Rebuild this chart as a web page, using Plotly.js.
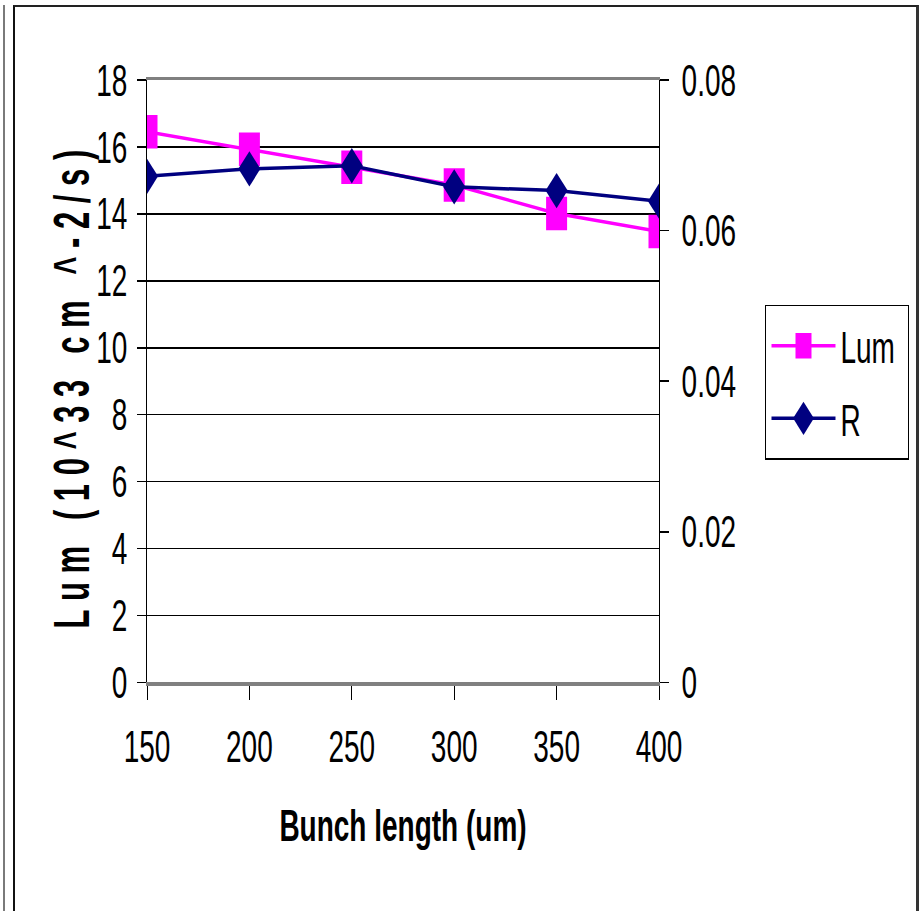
<!DOCTYPE html>
<html>
<head>
<meta charset="utf-8">
<script src="https://cdn.plot.ly/plotly-3.0.1.min.js"></script>
<style>
  html, body { margin: 0; padding: 0; background: #ffffff; }
  body { width: 922px; height: 911px; position: relative; overflow: hidden; }
  #frameLeftOuter { position: absolute; left: 3px; top: 5px; width: 2px; height: 906px; background: #7a7a7a; }
  #frame { position: absolute; left: 13px; top: 5px; width: 901px; height: 910px;
           border-top: 2px solid #222; border-left: 2px solid #111; border-right: 3px solid #333; }
  #chart { position: absolute; left: 0; top: 0; width: 922px; height: 570px;
           transform: scaleY(1.5982); transform-origin: 0 0; }
</style>
</head>
<body>
<div id="frameLeftOuter"></div>
<div id="frame"></div>
<div id="chart"></div>
<script>
// Bunch length (um)
const bunchLength = [150, 200, 250, 300, 350, 400];
// Luminosity, 10^33 cm^-2/s (left axis)
const lum = [16.45, 15.93, 15.39, 14.86, 14.01, 13.47];
// R (right axis)
const rValues = [0.0672, 0.0682, 0.0686, 0.0658, 0.0653, 0.0639];
// Axis tick labels
const xTicks = [150, 200, 250, 300, 350, 400];
const lumTicks = [0, 2, 4, 6, 8, 10, 12, 14, 16, 18];
const rTicks = [0, 0.02, 0.04, 0.06, 0.08];
const rTickText = ["0", "0.02", "0.04", "0.06", "0.08"];

const FONT = "Liberation Sans, Arial, sans-serif";
const STRETCH = 1.5982;           // vertical stretch applied to the whole chart
const NB = "\u00A0";              // non-breaking space keeps the letter spacing
const yTitle = ["L u m", "( 1 0 ^ 3 3", "c m", "^ - 2 / s )"]
  .map(w => w.split(" ").join(NB)).join(NB + NB + NB);

const traces = [
  {
    x: bunchLength, y: lum, name: "Lum" + NB, type: "scatter", mode: "lines+markers",
    xaxis: "x", yaxis: "y", legendgroup: "lum",
    line: { color: "#FF00FF", width: 2.2 },
    marker: { symbol: "square", size: 21, color: "#FF00FF" },
    hoverinfo: "skip"
  },
  {
    x: bunchLength, y: rValues, name: "R", type: "scatter", mode: "lines+markers",
    xaxis: "x", yaxis: "y2", legendgroup: "r",
    line: { color: "#000080", width: 2.2 },
    marker: { symbol: "diamond", size: 17, color: "#000080" },
    hoverinfo: "skip"
  }
];

const layout = {
  width: 922, height: 570,
  margin: { l: 147, r: 263, t: 50, b: 143, pad: 0 },
  paper_bgcolor: "rgba(0,0,0,0)",
  plot_bgcolor: "#ffffff",
  font: { family: FONT, size: 28, color: "#000000" },
  showlegend: true,
  legend: {
    x: 1.208, y: 0.627, xanchor: "left", yanchor: "top",
    bgcolor: "#ffffff", bordercolor: "#000000", borderwidth: 1,
    font: { family: FONT, size: 28, color: "#000000" },
    itemwidth: 64, tracegroupgap: 6
  },
  xaxis: {
    range: [150, 400], tickmode: "array", tickvals: xTicks, ticktext: xTicks.map(String),
    ticks: "outside", ticklen: 9, tickwidth: 1, tickcolor: "#000000",
    showline: true, linecolor: "#808080", linewidth: 2, mirror: true,
    showgrid: false, zeroline: false,
    tickfont: { family: FONT, size: 28 },
    ticklabelstandoff: 5,
    title: { text: "Bunch length (um)", font: { family: FONT, size: 28, weight: "bold" }, standoff: 25 }
  },
  yaxis: {
    range: [0, 18], tickmode: "array", tickvals: lumTicks,
    ticks: "outside", ticklen: 9, tickwidth: 1, tickcolor: "#000000",
    showline: true, linecolor: "#000000", linewidth: 1,
    showgrid: true, gridcolor: "#000000", gridwidth: 1, zeroline: false,
    tickfont: { family: FONT, size: 28 },
    ticklabelstandoff: 4,
    title: { text: yTitle, font: { family: FONT, size: 31, weight: "bold" }, standoff: 8 }
  },
  yaxis2: {
    range: [0, 0.08], tickmode: "array", tickvals: rTicks, ticktext: rTickText,
    overlaying: "y", side: "right", anchor: "x",
    ticks: "outside", ticklen: 9, tickwidth: 1, tickcolor: "#000000",
    showline: true, linecolor: "#000000", linewidth: 1,
    showgrid: false, zeroline: false,
    tickfont: { family: FONT, size: 28 },
    ticklabelstandoff: 7
  },
  yaxis3: {
    range: [0, 0.08], tickmode: "array", tickvals: rTicks,
    overlaying: "y", side: "right", anchor: "x",
    ticks: "inside", ticklen: 9, tickwidth: 1, tickcolor: "#000000",
    showticklabels: false, showline: false, showgrid: false, zeroline: false
  }
};

Plotly.newPlot("chart", traces, layout, { staticPlot: true, displayModeBar: false }).then(() => {
  // The rotated axis title keeps its own glyph proportions: undo the vertical
  // stretch along its reading direction, widen it across instead, and nudge it
  // down and towards the axis.
  const t = document.querySelector("#chart .g-ytitle text");
  if (!t) return;
  const host = document.getElementById("chart").getBoundingClientRect();
  const r = t.getBoundingClientRect();
  const cx = (r.left - host.left) + r.width / 2;
  const cy = ((r.top - host.top) + r.height / 2) / STRETCH;
  const dx = 5;
  const dy = 8 / STRETCH;
  const prev = t.getAttribute("transform") || "";
  t.setAttribute("transform",
    `translate(${cx + dx},${cy + dy}) scale(${STRETCH},${1 / STRETCH}) translate(${-cx},${-cy}) ${prev}`);
});
</script>
</body>
</html>
